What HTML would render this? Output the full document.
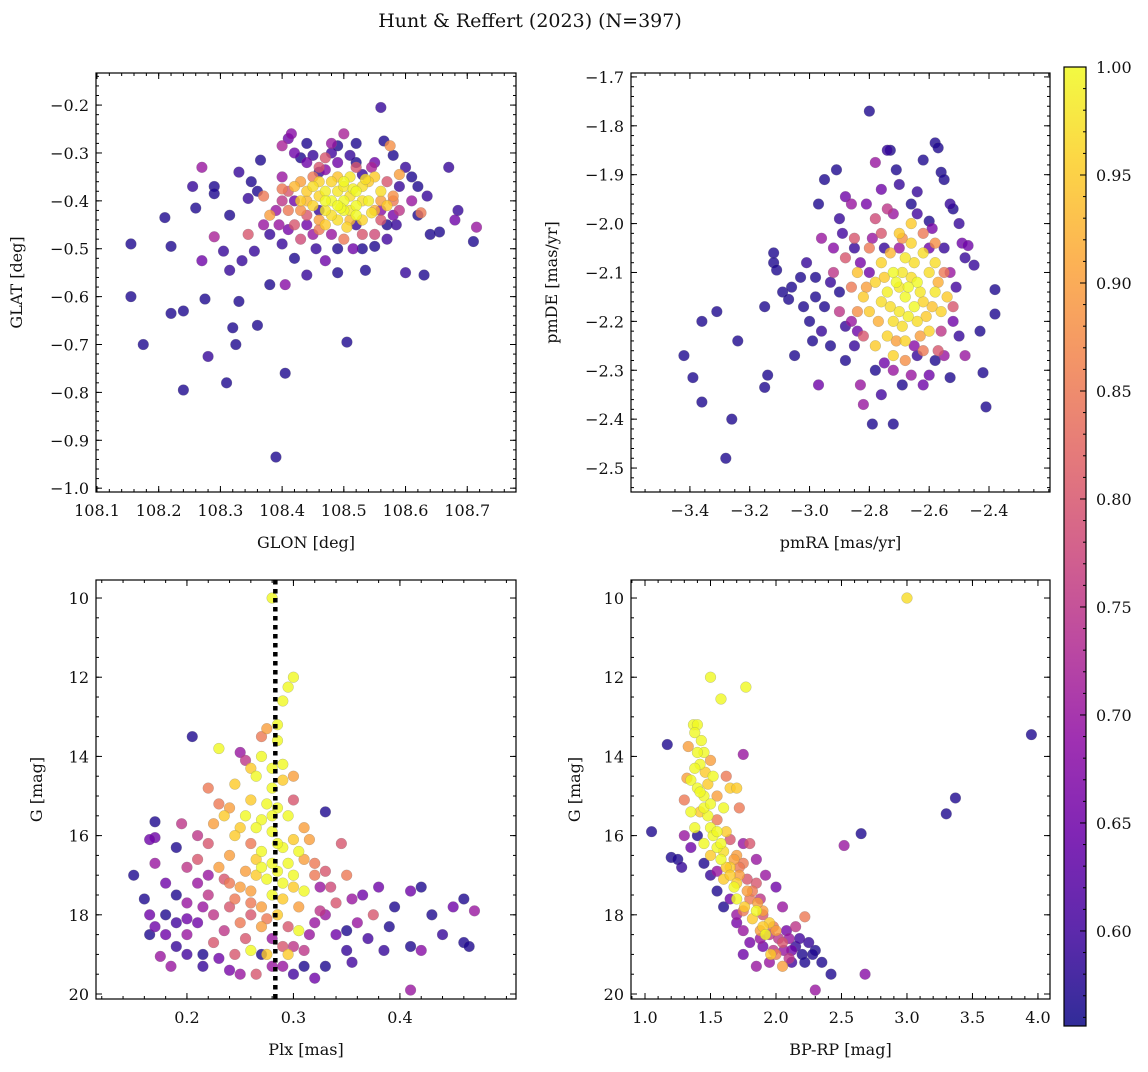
<!DOCTYPE html>
<html><head><meta charset="utf-8"><style>
body{margin:0;background:#fff}
svg text{font-family:"DejaVu Serif","Liberation Serif",serif;fill:#111}
</style></head><body>
<svg id="fig" width="1148" height="1067" viewBox="0 0 1148 1067" xmlns="http://www.w3.org/2000/svg">
<defs><linearGradient id="cg" x1="0" y1="1" x2="0" y2="0">
<stop offset="0" stop-color="#0d0887"/><stop offset="0.1" stop-color="#41049d"/><stop offset="0.2" stop-color="#6a00a8"/><stop offset="0.3" stop-color="#8f0da4"/><stop offset="0.4" stop-color="#b12a90"/><stop offset="0.5" stop-color="#cc4778"/><stop offset="0.6" stop-color="#e16462"/><stop offset="0.7" stop-color="#f2844b"/><stop offset="0.8" stop-color="#fca636"/><stop offset="0.9" stop-color="#fcce25"/><stop offset="1" stop-color="#f0f921"/></linearGradient></defs>
<text x="530" y="27" text-anchor="middle" font-size="19">Hunt &amp; Reffert (2023) (N=397)</text>
</svg>
<script>
// Panel 1: GLON, GLAT, prob
const p1 = [[108.155,-0.49,0.57],[108.155,-0.60,0.57],[108.175,-0.70,0.57],[108.21,-0.435,0.57],[108.22,-0.495,0.57],[108.22,-0.635,0.57],[108.24,-0.63,0.57],[108.24,-0.795,0.57],[108.255,-0.37,0.59],[108.26,-0.415,0.57],[108.27,-0.33,0.7],[108.27,-0.525,0.65],[108.275,-0.605,0.57],[108.28,-0.725,0.59],[108.29,-0.37,0.57],[108.29,-0.385,0.57],[108.29,-0.475,0.72],[108.305,-0.505,0.59],[108.31,-0.78,0.57],[108.315,-0.43,0.57],[108.315,-0.545,0.59],[108.32,-0.665,0.57],[108.325,-0.70,0.57],[108.33,-0.34,0.59],[108.33,-0.61,0.57],[108.335,-0.525,0.59],[108.345,-0.395,0.59],[108.345,-0.47,0.8],[108.355,-0.505,0.59],[108.36,-0.66,0.57],[108.365,-0.315,0.57],[108.37,-0.39,0.85],[108.38,-0.575,0.57],[108.38,-0.43,0.9],[108.39,-0.935,0.57],[108.395,-0.45,0.7],[108.4,-0.285,0.72],[108.4,-0.375,0.85],[108.4,-0.49,0.59],[108.405,-0.76,0.57],[108.405,-0.575,0.68],[108.41,-0.27,0.65],[108.415,-0.26,0.68],[108.42,-0.3,0.65],[108.42,-0.52,0.57],[108.43,-0.31,0.57],[108.43,-0.36,0.9],[108.44,-0.32,0.65],[108.44,-0.555,0.59],[108.45,-0.305,0.59],[108.455,-0.5,0.59],[108.46,-0.34,0.59],[108.47,-0.335,0.68],[108.47,-0.525,0.65],[108.48,-0.28,0.7],[108.49,-0.285,0.57],[108.49,-0.55,0.57],[108.5,-0.26,0.72],[108.505,-0.695,0.57],[108.51,-0.305,0.59],[108.515,-0.5,0.65],[108.52,-0.32,0.57],[108.53,-0.345,0.59],[108.535,-0.545,0.57],[108.545,-0.33,0.72],[108.55,-0.495,0.57],[108.56,-0.205,0.59],[108.565,-0.275,0.57],[108.575,-0.285,0.88],[108.58,-0.305,0.57],[108.585,-0.45,0.59],[108.59,-0.37,0.59],[108.6,-0.33,0.59],[108.6,-0.55,0.59],[108.61,-0.4,0.7],[108.62,-0.37,0.57],[108.625,-0.425,0.85],[108.63,-0.555,0.57],[108.635,-0.39,0.59],[108.655,-0.465,0.57],[108.67,-0.33,0.59],[108.68,-0.44,0.65],[108.685,-0.42,0.59],[108.71,-0.485,0.57],[108.715,-0.455,0.7],[108.59,-0.345,0.9],[108.58,-0.39,0.88],
[108.48,-0.40,1],[108.49,-0.38,0.98],[108.50,-0.36,1],[108.51,-0.39,0.97],[108.52,-0.41,1],[108.47,-0.42,0.98],[108.46,-0.39,0.96],[108.50,-0.42,1],[108.53,-0.37,0.97],[108.54,-0.40,0.99],[108.55,-0.35,0.95],[108.49,-0.44,0.97],[108.51,-0.35,0.98],[108.48,-0.36,0.96],[108.52,-0.43,1],[108.45,-0.41,0.96],[108.44,-0.38,0.95],[108.53,-0.44,0.96],[108.56,-0.38,0.97],[108.47,-0.45,0.95],[108.50,-0.40,1],[108.495,-0.415,1],[108.515,-0.375,0.99],[108.545,-0.425,0.97],[108.43,-0.40,0.95],[108.42,-0.37,0.93],[108.57,-0.41,0.95],[108.46,-0.36,0.96],[108.505,-0.455,0.96],[108.535,-0.355,0.97],
[108.44,-0.43,0.8],[108.46,-0.46,0.85],[108.56,-0.44,0.8],[108.58,-0.40,0.85],[108.41,-0.42,0.85],[108.42,-0.45,0.8],[108.47,-0.31,0.8],[108.52,-0.33,0.8],[108.50,-0.48,0.85],[108.57,-0.36,0.8],[108.43,-0.48,0.78],[108.55,-0.47,0.78],[108.40,-0.40,0.75],[108.59,-0.42,0.75],[108.45,-0.35,0.85],[108.53,-0.47,0.8],
[108.44,-0.45,0.65],[108.46,-0.42,0.59],[108.49,-0.32,0.65],[108.52,-0.45,0.59],[108.55,-0.32,0.65],[108.57,-0.45,0.57],[108.42,-0.40,0.65],[108.48,-0.47,0.7],[108.56,-0.42,0.68],[108.38,-0.47,0.59],[108.36,-0.38,0.57],[108.62,-0.43,0.57],
[108.45,-0.37,0.97],[108.47,-0.38,0.99],[108.49,-0.41,1],[108.51,-0.42,0.98],[108.53,-0.40,0.97],[108.52,-0.38,1],[108.48,-0.43,0.97],[108.46,-0.44,0.9],[108.50,-0.37,0.98],[108.54,-0.36,0.95],[108.56,-0.40,0.9],[108.44,-0.40,0.93],[108.43,-0.42,0.88],[108.47,-0.40,1],[108.51,-0.44,0.93],[108.55,-0.42,0.92],[108.49,-0.35,0.94],[108.46,-0.33,0.8],[108.41,-0.38,0.8],[108.39,-0.42,0.7],[108.45,-0.47,0.7],[108.53,-0.50,0.57],[108.58,-0.43,0.66],[108.48,-0.30,0.6],[108.52,-0.28,0.57],[108.44,-0.28,0.57],[108.61,-0.35,0.57],[108.64,-0.47,0.57],[108.37,-0.45,0.7],[108.35,-0.36,0.57],[108.41,-0.46,0.66],[108.57,-0.48,0.6],[108.49,-0.50,0.57],[108.40,-0.35,0.7]];
// Panel 2: pmRA, pmDE, prob
const p2 = [[-3.42,-2.27,0.57],[-3.39,-2.315,0.57],[-3.36,-2.20,0.57],[-3.36,-2.365,0.57],[-3.31,-2.18,0.57],[-3.28,-2.48,0.57],[-3.26,-2.40,0.57],[-3.24,-2.24,0.57],[-3.15,-2.17,0.57],[-3.15,-2.335,0.57],[-3.14,-2.31,0.57],[-3.12,-2.06,0.57],[-3.12,-2.08,0.57],[-3.11,-2.095,0.57],[-3.09,-2.14,0.57],[-3.07,-2.155,0.57],[-3.06,-2.13,0.57],[-3.05,-2.27,0.57],[-3.03,-2.11,0.57],[-3.02,-2.17,0.57],[-3.01,-2.08,0.59],[-3.0,-2.20,0.57],[-2.99,-2.24,0.57],[-2.98,-2.11,0.57],[-2.98,-2.15,0.57],[-2.97,-2.33,0.65],[-2.97,-1.96,0.57],[-2.96,-2.22,0.59],[-2.96,-2.03,0.7],[-2.95,-1.91,0.57],[-2.93,-2.12,0.59],[-2.92,-2.05,0.68],[-2.91,-1.89,0.57],[-2.9,-1.99,0.59],[-2.88,-2.21,0.59],[-2.88,-1.945,0.65],[-2.86,-1.96,0.7],[-2.85,-2.05,0.59],[-2.84,-2.22,0.65],[-2.83,-2.33,0.7],[-2.82,-2.37,0.7],[-2.8,-1.77,0.57],[-2.79,-2.41,0.57],[-2.78,-1.875,0.7],[-2.76,-1.93,0.65],[-2.74,-1.85,0.59],[-2.73,-1.85,0.57],[-2.72,-2.41,0.57],[-2.71,-1.89,0.57],[-2.7,-1.92,0.59],[-2.66,-1.96,0.57],[-2.64,-1.935,0.59],[-2.62,-1.87,0.57],[-2.58,-1.835,0.57],[-2.57,-1.845,0.57],[-2.56,-1.895,0.57],[-2.55,-1.91,0.57],[-2.53,-1.96,0.59],[-2.52,-1.97,0.57],[-2.5,-2.0,0.59],[-2.49,-2.04,0.65],[-2.48,-2.07,0.59],[-2.47,-2.045,0.65],[-2.45,-2.085,0.59],[-2.43,-2.22,0.57],[-2.42,-2.305,0.57],[-2.41,-2.375,0.57],[-2.38,-2.135,0.57],[-2.38,-2.185,0.57],[-2.5,-2.23,0.59],[-2.48,-2.27,0.7],[-2.53,-2.315,0.57],[-2.55,-2.27,0.7],[-2.6,-2.31,0.65],[-2.62,-2.33,0.65],[-2.69,-2.33,0.57],[-2.72,-2.30,0.7],[-2.75,-2.285,0.65],[-2.6,-1.995,0.57],[-2.64,-2.27,0.59],
[-2.72,-2.10,1],[-2.70,-2.13,0.98],[-2.68,-2.15,1],[-2.66,-2.11,0.97],[-2.74,-2.14,0.99],[-2.76,-2.16,0.97],[-2.64,-2.12,1],[-2.62,-2.16,0.96],[-2.70,-2.18,0.98],[-2.72,-2.20,0.97],[-2.68,-2.07,0.98],[-2.66,-2.04,0.96],[-2.60,-2.10,0.97],[-2.58,-2.14,0.98],[-2.78,-2.12,0.96],[-2.80,-2.18,0.95],[-2.74,-2.23,0.96],[-2.64,-2.20,0.97],[-2.56,-2.18,0.96],[-2.62,-2.06,0.97],[-2.70,-2.02,0.95],[-2.76,-2.08,0.96],[-2.82,-2.15,0.95],[-2.68,-2.24,0.96],[-2.60,-2.22,0.96],[-2.54,-2.15,0.95],[-2.66,-2.00,0.95],[-2.78,-2.25,0.95],[-2.72,-2.27,0.96],[-2.58,-2.08,0.97],[-2.84,-2.10,0.94],[-2.65,-2.17,1],
[-2.86,-2.13,0.85],[-2.84,-2.18,0.88],[-2.80,-2.05,0.85],[-2.76,-2.02,0.8],[-2.85,-2.03,0.8],[-2.88,-2.07,0.8],[-2.58,-2.04,0.88],[-2.55,-2.10,0.85],[-2.52,-2.17,0.8],[-2.62,-2.26,0.85],[-2.68,-2.28,0.88],[-2.82,-2.23,0.8],[-2.78,-1.99,0.78],[-2.74,-1.97,0.75],[-2.90,-2.18,0.75],[-2.57,-2.26,0.8],[-2.92,-2.10,0.75],[-2.62,-2.02,0.85],
[-2.85,-2.25,0.59],[-2.78,-2.30,0.57],[-2.6,-2.05,0.65],[-2.55,-2.05,0.59],[-2.9,-2.14,0.57],[-2.8,-2.1,0.65],[-2.7,-2.05,0.7],[-2.65,-2.25,0.68],[-2.52,-2.2,0.65],[-2.58,-2.28,0.57],[-2.75,-2.05,0.59],
[-2.71,-2.12,1],[-2.69,-2.10,0.98],[-2.67,-2.13,1],[-2.73,-2.17,0.97],[-2.63,-2.14,0.98],[-2.61,-2.19,0.95],[-2.69,-2.21,0.97],[-2.75,-2.11,0.95],[-2.65,-2.08,0.97],[-2.59,-2.17,0.94],[-2.77,-2.20,0.92],[-2.67,-2.19,0.99],[-2.73,-2.06,0.93],[-2.63,-2.23,0.9],[-2.57,-2.12,0.92],[-2.81,-2.13,0.9],[-2.71,-2.24,0.9],[-2.69,-2.03,0.88],[-2.86,-2.20,0.7],[-2.83,-2.08,0.66],[-2.79,-2.03,0.7],[-2.53,-2.10,0.7],[-2.51,-2.13,0.6],[-2.59,-2.01,0.66],[-2.88,-2.28,0.57],[-2.93,-2.25,0.57],[-2.76,-2.35,0.6],[-2.66,-2.31,0.7],[-2.56,-2.22,0.75],[-2.95,-2.17,0.57],[-2.89,-2.02,0.6],[-2.81,-1.96,0.66],[-2.72,-1.98,0.7],[-2.64,-1.98,0.6]];
// Panel 3: Plx, G, prob
const p3 = [[0.28,10.0,1.0],[0.30,12.0,1],[0.295,12.25,1],[0.29,12.6,1],[0.285,13.2,1],[0.275,13.3,0.9],[0.27,13.5,0.85],[0.205,13.5,0.57],[0.23,13.8,1],[0.25,13.9,0.7],[0.255,14.1,0.75],[0.27,14.0,1],[0.29,14.2,1],[0.29,14.6,0.95],[0.265,14.5,1],[0.28,14.3,1],[0.245,14.7,0.95],[0.3,15.1,0.8],[0.33,15.4,0.57],[0.22,14.8,0.85],[0.23,15.2,0.85],[0.235,15.5,0.95],[0.26,15.1,0.95],[0.25,15.8,0.95],[0.27,15.6,1],[0.28,15.9,1],[0.295,15.5,1],[0.31,15.8,0.9],[0.315,16.1,0.9],[0.305,16.4,1],[0.29,16.3,1],[0.27,16.4,1],[0.26,16.2,0.85],[0.24,16.5,0.9],[0.225,15.7,0.9],[0.22,16.2,0.8],[0.21,16.0,0.75],[0.195,15.7,0.75],[0.19,16.3,0.57],[0.17,16.05,0.65],[0.17,15.65,0.57],[0.165,16.1,0.65],[0.15,17.0,0.57],[0.17,16.7,0.7],[0.18,17.2,0.65],[0.16,17.6,0.57],[0.165,18.0,0.65],[0.165,18.5,0.57],[0.17,18.3,0.65],[0.18,18.5,0.65],[0.175,19.05,0.7],[0.185,19.3,0.7],[0.19,18.8,0.59],[0.2,18.5,0.7],[0.2,17.7,0.7],[0.21,17.2,0.7],[0.21,18.2,0.65],[0.215,19.0,0.57],[0.215,19.3,0.59],[0.23,19.1,0.65],[0.225,18.7,0.8],[0.22,17.5,0.75],[0.24,17.8,0.8],[0.235,18.4,0.75],[0.25,17.3,0.9],[0.26,17.7,0.85],[0.25,18.2,0.85],[0.245,19.0,0.8],[0.25,19.5,0.7],[0.26,18.9,1.0],[0.265,19.5,0.8],[0.275,19.0,0.95],[0.27,18.3,0.9],[0.28,17.5,1],[0.29,17.2,1],[0.285,16.9,1],[0.3,17.0,1],[0.31,17.4,1],[0.305,17.8,0.9],[0.295,18.3,0.8],[0.3,18.8,0.75],[0.29,19.3,0.7],[0.295,19.0,0.95],[0.31,19.3,0.57],[0.32,18.2,0.7],[0.325,17.9,0.75],[0.33,16.9,0.8],[0.335,17.3,0.78],[0.345,16.2,0.8],[0.35,17.0,0.85],[0.355,17.6,0.7],[0.34,18.5,0.65],[0.35,18.9,0.59],[0.36,18.2,0.7],[0.365,17.5,0.65],[0.375,18.0,0.8],[0.38,17.3,0.65],[0.39,18.3,0.57],[0.385,18.9,0.59],[0.395,17.8,0.57],[0.41,17.4,0.65],[0.42,17.3,0.57],[0.43,18.0,0.57],[0.44,18.5,0.59],[0.45,17.8,0.65],[0.46,17.6,0.57],[0.47,17.9,0.7],[0.46,18.7,0.57],[0.465,18.8,0.57],[0.41,18.8,0.57],[0.42,18.9,0.68],[0.41,19.9,0.7],[0.35,18.4,0.57],[0.33,19.3,0.57],[0.32,19.6,0.65],[0.255,16.9,0.9],[0.265,17.0,0.95],[0.245,16.0,0.95],[0.23,16.8,0.9],[0.2,16.8,0.75],[0.27,16.8,1],[0.285,15.3,1],[0.28,16.7,1],[0.3,16.1,0.95],[0.32,16.7,0.85],[0.315,18.5,0.7],[0.26,18.0,0.8],[0.24,17.2,0.85],[0.22,17.0,0.7],[0.19,17.5,0.57],[0.2,18.1,0.65],[0.28,18.6,0.7],[0.285,18.0,0.95],[0.305,18.4,1.0],[0.325,17.3,0.7],[0.27,19.0,0.57],
[0.275,15.2,1],[0.28,15.5,1],[0.265,15.8,1],[0.285,16.2,1],[0.295,16.7,1],[0.275,17.1,1],[0.265,16.6,0.95],[0.29,17.6,0.95],[0.3,17.3,0.95],[0.275,18.1,0.85],[0.26,17.4,0.9],[0.245,17.6,0.85],[0.235,17.1,0.8],[0.255,18.6,0.8],[0.28,19.3,0.7],[0.3,19.5,0.6],[0.31,18.9,0.75],[0.33,18.0,0.7],[0.34,17.7,0.8],[0.21,16.6,0.8],[0.215,17.8,0.7],[0.19,18.2,0.6],[0.225,18.0,0.75],[0.27,17.8,0.9],[0.29,18.8,0.8],[0.32,17.0,0.85],[0.31,16.6,0.9],[0.255,15.5,1],[0.24,15.3,0.9],[0.28,14.8,1],[0.26,14.3,0.95],[0.285,13.6,1],[0.3,14.5,0.9],[0.37,18.6,0.6],[0.355,19.2,0.6],[0.2,19.0,0.6],[0.18,18.0,0.57],[0.24,19.4,0.66]];
// Panel 4: BP-RP, G, prob
const p4 = [[3.0,10.0,0.97],[1.5,12.0,1],[1.77,12.25,1],[1.58,12.55,1],[3.95,13.45,0.57],[1.17,13.7,0.57],[1.75,13.95,0.7],[3.37,15.05,0.57],[3.3,15.45,0.57],[2.65,15.95,0.57],[2.52,16.25,0.7],[1.05,15.9,0.57],[1.2,16.55,0.57],[1.25,16.6,0.57],[1.28,16.8,0.59],[1.32,14.55,0.9],[1.35,14.6,1],[1.37,13.2,1],[1.4,13.2,1],[1.38,13.4,1],[1.33,13.75,0.9],[1.43,13.6,1],[1.45,13.9,1],[1.42,14.2,1],[1.4,14.8,1],[1.45,15.0,1],[1.35,15.4,1],[1.38,15.8,1],[1.48,15.5,1],[1.5,15.8,1],[1.45,16.2,1],[1.52,16.0,1],[1.55,16.3,1],[1.6,15.3,1],[1.65,14.8,0.95],[1.7,14.8,0.95],[1.62,15.9,0.95],[1.58,16.6,1],[1.65,16.8,0.95],[1.7,16.5,0.9],[1.75,16.7,0.85],[1.8,16.2,0.8],[1.6,17.1,0.95],[1.68,17.3,1],[1.72,17.0,0.9],[1.78,17.4,0.9],[1.8,17.6,0.85],[1.85,17.2,0.8],[1.88,17.6,0.75],[1.75,17.9,0.85],[1.82,18.1,0.95],[1.9,17.9,0.9],[1.95,18.2,0.95],[1.92,18.5,1],[2.0,18.4,0.9],[2.05,18.7,0.8],[1.98,18.9,0.75],[2.1,18.6,0.7],[2.12,18.9,0.65],[2.15,18.8,0.59],[2.2,19.0,0.57],[2.25,18.7,0.59],[2.3,18.9,0.57],[2.35,19.2,0.57],[2.42,19.5,0.57],[2.68,19.5,0.68],[2.3,19.9,0.7],[2.05,19.3,0.9],[2.1,19.1,0.75],[1.95,19.2,0.7],[1.85,19.3,0.7],[1.9,18.8,0.65],[2.22,18.05,0.85],[2.0,17.3,0.65],[1.92,17.0,0.7],[1.85,16.6,0.7],[1.75,16.2,0.7],[1.75,18.4,0.7],[1.7,18.0,0.7],[1.65,17.6,0.65],[1.55,17.4,0.57],[1.4,16.0,0.57],[1.35,16.3,0.65],[1.3,16.0,0.7],[1.45,16.7,0.57],[1.5,17.0,0.59],[1.6,17.8,0.57],[1.75,19.0,0.65],[2.05,17.8,0.7],[2.15,18.3,0.75],[2.0,19.0,0.85],[1.52,14.5,1],[1.48,14.7,0.95],[1.42,15.4,0.95],[1.55,15.6,0.85],[1.65,16.1,0.8],[1.3,15.1,0.85],[1.5,16.5,0.95],[1.7,17.6,1],[1.85,17.9,1],[1.9,18.3,0.95],[1.88,18.6,0.7],
[1.42,14.9,1],[1.45,15.3,1],[1.5,15.2,1],[1.55,15.9,1],[1.58,16.2,1],[1.6,16.4,0.97],[1.62,16.8,0.95],[1.65,17.0,0.95],[1.7,17.2,0.95],[1.72,16.8,0.85],[1.68,16.6,0.9],[1.78,17.1,0.8],[1.82,17.4,0.85],[1.76,17.8,0.95],[1.86,17.7,0.9],[1.9,18.0,0.8],[1.95,18.5,0.75],[1.98,18.3,0.85],[2.02,18.6,0.75],[2.06,18.9,0.7],[1.96,19.0,0.95],[1.88,18.4,0.9],[2.08,18.4,0.66],[2.18,18.6,0.6],[2.12,19.2,0.6],[2.22,19.2,0.57],[2.28,19.0,0.57],[1.8,18.7,0.66],[1.7,18.2,0.66],[1.55,16.9,0.7],[1.38,14.3,1],[1.4,13.9,1],[1.46,14.4,0.95],[1.5,14.1,0.9],[1.62,14.5,0.85],[1.72,15.3,0.85],[1.55,15.0,0.9]];
const plxLine = 0.283;
const cbTicks = [0.60,0.65,0.70,0.75,0.80,0.85,0.90,0.95,1.00];
const VMIN = 0.556, VMAX = 1.0;

const NS = 'http://www.w3.org/2000/svg';
const fig = document.getElementById('fig');
function mk(tag, attrs, parent){const e=document.createElementNS(NS,tag);for(const k in attrs)e.setAttribute(k,attrs[k]);(parent||fig).appendChild(e);return e;}
const stops=[[13,8,135],[65,4,157],[106,0,168],[143,13,164],[177,42,144],[204,71,120],[225,100,98],[242,132,75],[252,166,54],[252,206,37],[240,249,33]];
function cmap(p){let t=Math.max(0,Math.min(1,(p-VMIN)/(VMAX-VMIN)))*10;const i=Math.min(9,Math.floor(t));const f=t-i;const a=stops[i],b=stops[i+1];return 'rgb('+a.map((v,k)=>Math.round(v+(b[k]-v)*f)).join(',')+')';}
function fmt(v,d){const s=Math.abs(v).toFixed(d);return (v<-1e-9?'\u2212':'')+s;}

function panel(cfg){
  const {name,L,T,R,B,xmin,xmax,ymin,ymax,invertY,xMaj,xMin,yMaj,yMinor,xd,yd,xlabel,ylabel,ylx,data,extra}=cfg;
  const g=mk('g',{});
  
  
  const sx=v=>L+(v-xmin)/(xmax-xmin)*(R-L);
  const sy=v=>invertY? T+(v-ymin)/(ymax-ymin)*(B-T) : B-(v-ymin)/(ymax-ymin)*(B-T);
  const pts=mk('g',{},g);
  
  
  const sorted=data.slice().sort((a,b)=>a[2]-b[2]);
  sorted.forEach(d=>{
    const c=mk('circle',{cx:sx(d[0]),cy:sy(d[1]),r:5.4,fill:cmap(d[2]),'fill-opacity':0.8,stroke:'#777','stroke-opacity':0.45,'stroke-width':0.5},pts);
    
    
  });
  if(extra) extra(g,sx,sy);
  const ax=mk('g',{},g);
  
  
  const tk=(x1,y1,x2,y2)=>mk('line',{x1,y1,x2,y2,stroke:'#000','stroke-width':1},ax);
  const eps=1e-9;
  for(let v=Math.ceil(xmin/xMin-eps)*xMin; v<=xmax+eps; v+=xMin){const x=sx(v);if(x<L-0.1||x>R+0.1)continue;tk(x,B,x,B-3);tk(x,T,x,T+3);}
  xMaj.forEach(v=>{const x=sx(v);tk(x,B,x,B-6);tk(x,T,x,T+6);
    const t=mk('text',{x:x,y:B+24,'text-anchor':'middle','font-size':16},ax);t.textContent=fmt(v,xd);
    });
  for(let v=Math.ceil(ymin/yMinor-eps)*yMinor; v<=ymax+eps; v+=yMinor){const y=sy(v);if(y<T-0.1||y>B+0.1)continue;tk(L,y,L+3,y);tk(R,y,R-3,y);}
  yMaj.forEach(v=>{const y=sy(v);tk(L,y,L+6,y);tk(R,y,R-6,y);
    const t=mk('text',{x:L-7,y:y+6,'text-anchor':'end','font-size':16},ax);t.textContent=fmt(v,yd);
    });
  mk('rect',{x:L,y:T,width:R-L,height:B-T,fill:'none',stroke:'#000','stroke-width':1.2},ax);
  const xl=mk('text',{x:(L+R)/2,y:B+56,'text-anchor':'middle','font-size':16},ax);xl.textContent=xlabel;
  
  const yl=mk('text',{x:ylx,y:(T+B)/2,'text-anchor':'middle','font-size':16,transform:'rotate(-90 '+ylx+' '+((T+B)/2)+')'},ax);yl.textContent=ylabel;
  
}
const r=(a,b,s)=>{const o=[];for(let i=0;a+i*s<=b+1e-9;i++)o.push(+(a+i*s).toFixed(4));return o;};
panel({name:'glon-glat-panel',L:96,T:73,R:516,B:492,xmin:108.0984,xmax:108.779,ymin:-1.008,ymax:-0.133,invertY:false,xMaj:r(108.1,108.7,0.1),xMin:0.02,yMaj:r(-1.0,-0.2,0.1),yMinor:0.02,xd:1,yd:1,xlabel:'GLON [deg]',ylabel:'GLAT [deg]',ylx:22,data:p1});
panel({name:'proper-motion-panel',L:631,T:73,R:1050,B:492,xmin:-3.597,xmax:-2.196,ymin:-2.549,ymax:-1.692,invertY:false,xMaj:r(-3.4,-2.4,0.2),xMin:0.05,yMaj:r(-2.5,-1.7,0.1),yMinor:0.02,xd:1,yd:1,xlabel:'pmRA [mas/yr]',ylabel:'pmDE [mas/yr]',ylx:557,data:p2});
panel({name:'parallax-panel',L:96,T:580,R:516,B:999,xmin:0.1146,xmax:0.509,ymin:9.545,ymax:20.126,invertY:true,xMaj:[0.2,0.3,0.4],xMin:0.02,yMaj:[10,12,14,16,18,20],yMinor:0.5,xd:1,yd:0,xlabel:'Plx [mas]',ylabel:'G [mag]',ylx:42,data:p3,
  extra:(g,sx,sy)=>{const l=mk('line',{x1:sx(plxLine),x2:sx(plxLine),y1:580,y2:999,stroke:'#000','stroke-width':4.5,'stroke-dasharray':'4.5,4.5'},g);
    }});
panel({name:'cmd-panel',L:631,T:580,R:1050,B:999,xmin:0.893,xmax:4.092,ymin:9.545,ymax:20.126,invertY:true,xMaj:r(1.0,4.0,0.5),xMin:0.1,yMaj:[10,12,14,16,18,20],yMinor:0.5,xd:1,yd:0,xlabel:'BP-RP [mag]',ylabel:'G [mag]',ylx:580,data:p4});

// colorbar
const cb=mk('g',{});


const CL=1064,CR=1086,CT=67,CB=1026;
const cy=v=>CB-(v-VMIN)/(VMAX-VMIN)*(CB-CT);
mk('rect',{x:CL,y:CT,width:CR-CL,height:CB-CT,fill:'url(#cg)','fill-opacity':0.85},cb);
for(let v=0.56;v<=1.0001;v+=0.01){const y=cy(v);mk('line',{x1:CR,x2:CR-3,y1:y,y2:y,stroke:'#000','stroke-width':1},cb);}
cbTicks.forEach(v=>{const y=cy(v);mk('line',{x1:CR,x2:CR-6,y1:y,y2:y,stroke:'#000','stroke-width':1},cb);
  const t=mk('text',{x:CR+10,y:y+6,'font-size':16},cb);t.textContent=v.toFixed(2);
  });
mk('rect',{x:CL,y:CT,width:CR-CL,height:CB-CT,fill:'none',stroke:'#000','stroke-width':1.2},cb);
</script>
</body></html>
